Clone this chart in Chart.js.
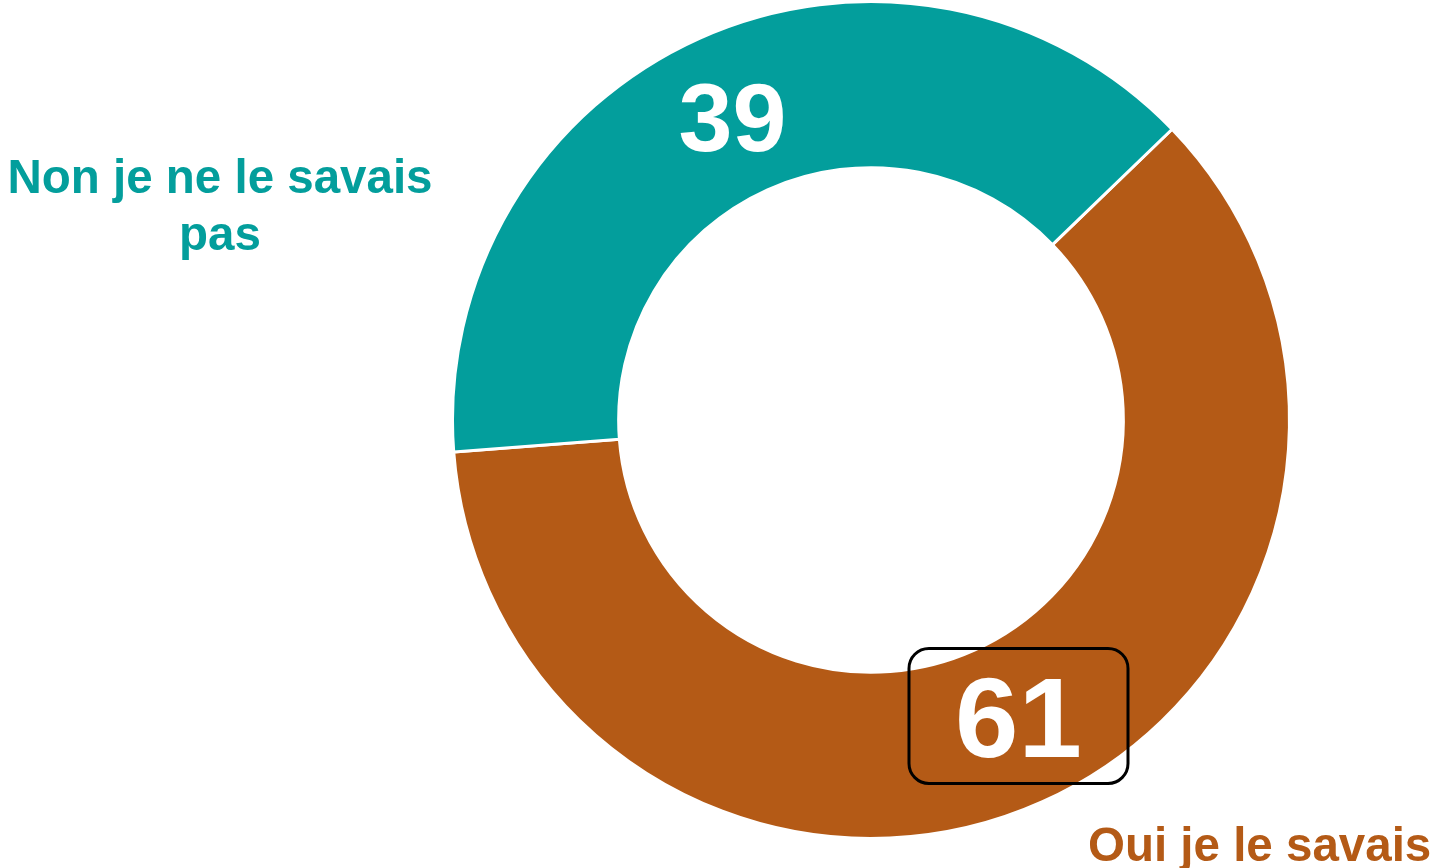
<!DOCTYPE html>
<html><head><meta charset="utf-8">
<script src="https://cdn.jsdelivr.net/npm/chart.js@4"></script>
<style>html,body{margin:0;padding:0;background:#fff;overflow:hidden}canvas{display:block}</style>
</head>
<body>
<canvas id="c" width="1433" height="868"></canvas>
<script>
// ---- data ----
const categories = ['Oui je le savais', 'Non je ne le savais pas'];
const values = [61, 39];
const sliceColors = ['#B45A16', '#039E9C'];
const categoryLines = [['Oui je le savais'], ['Non je ne le savais', 'pas']];

// ---- styles for labels ----
const valueFont = [114, 97];
const valueNudge = [[10, -10], [-1, 2]];
const valueBoxed = [true, false];
const outerLabelPos = [
  {x: 1088, y: 861, align: 'left'},
  {x: 220, y: 193, align: 'center'}
];
const FONT = '"Liberation Sans", Arial, sans-serif';

const labelPlugin = {
  id: 'labels',
  afterDatasetsDraw(chart) {
    const ctx = chart.ctx;
    const meta = chart.getDatasetMeta(0);
    ctx.save();
    meta.data.forEach((arc, i) => {
      const p = arc.getCenterPoint();
      const cx = p.x + valueNudge[i][0];
      const cy = p.y + valueNudge[i][1];
      const fs = valueFont[i];
      ctx.font = 'bold ' + fs + 'px ' + FONT;
      ctx.textAlign = 'center';
      ctx.textBaseline = 'alphabetic';
      ctx.fillStyle = '#FFFFFF';
      ctx.fillText(String(values[i]), cx, cy + 0.358 * fs);
      if (valueBoxed[i]) {
        const w = 219, h = 135, r = 20;
        ctx.lineWidth = 3;
        ctx.strokeStyle = '#000000';
        ctx.beginPath();
        ctx.roundRect(cx - w / 2, cy - h / 2, w, h, r);
        ctx.stroke();
      }
      // outer category label
      const lp = outerLabelPos[i];
      ctx.font = 'bold 47.5px ' + FONT;
      ctx.textAlign = lp.align;
      ctx.fillStyle = sliceColors[i];
      categoryLines[i].forEach((line, k) => {
        ctx.fillText(line, lp.x, lp.y + k * 57);
      });
    });
    ctx.restore();
  }
};

new Chart(document.getElementById('c'), {
  type: 'doughnut',
  data: {
    labels: categories,
    datasets: [{
      data: values,
      backgroundColor: sliceColors,
      borderColor: '#FFFFFF',
      borderWidth: 3,
      hoverOffset: 0
    }]
  },
  options: {
    responsive: false,
    animation: false,
    rotation: 46,
    cutout: '60.3%',
    layout: {padding: {left: 451, right: 142, top: 0, bottom: 28}},
    plugins: {legend: {display: false}, tooltip: {enabled: false}}
  },
  plugins: [labelPlugin]
});
</script>
</body></html>
